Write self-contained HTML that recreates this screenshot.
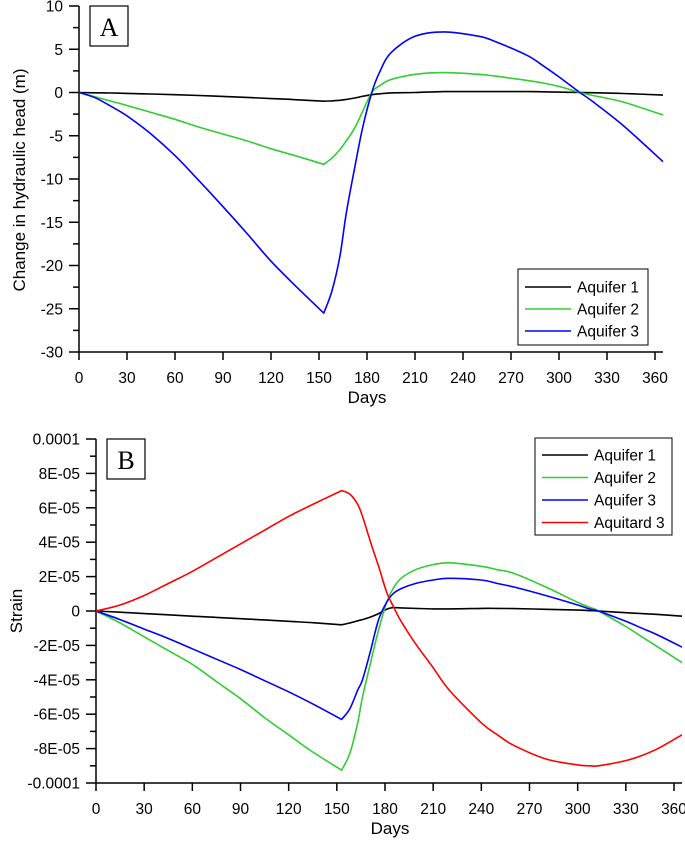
<!DOCTYPE html>
<html><head><meta charset="utf-8"><style>
body{margin:0;background:#fff}
svg{display:block;font-family:"Liberation Sans",Arial,sans-serif}
</style></head><body>
<svg id="chart" width="685" height="845" viewBox="0 0 685 845" xmlns="http://www.w3.org/2000/svg"></svg>
<script>
const daysA=[0,10,20,30,45,60,75,90,105,120,135,153,158,163,167,172,177,183,188,195,210,228,250,260,280,290,300,313,320,340,365];
const aq1A=[0,-0.03,-0.06,-0.1,-0.17,-0.25,-0.35,-0.45,-0.57,-0.7,-0.83,-1.0,-0.97,-0.9,-0.8,-0.65,-0.45,-0.25,-0.15,-0.05,0,0.1,0.1,0.1,0.1,0.08,0.05,0,-0.02,-0.12,-0.3];
const aq2A=[0,-0.5,-1.0,-1.5,-2.3,-3.1,-4.0,-4.8,-5.6,-6.5,-7.3,-8.3,-7.6,-6.6,-5.6,-4.2,-2.3,0,0.8,1.5,2.1,2.3,2.1,1.9,1.4,1.1,0.7,0,-0.3,-1.1,-2.6];
const aq3A=[0,-0.6,-1.6,-2.7,-4.8,-7.3,-10.2,-13.2,-16.3,-19.5,-22.3,-25.5,-23,-19,-14,-9,-4.3,0,2.4,4.6,6.5,7.0,6.5,5.9,4.3,3.1,1.8,0,-0.9,-3.8,-8.0];
const daysB=[0,15,30,45,60,75,90,105,120,135,153,158,163,166,171,176,181,185,190,199,210,220,240,250,260,280,300,308,313,330,340,350,365];
const aq1B=[0,-0.07,-0.15,-0.22,-0.3,-0.37,-0.45,-0.52,-0.6,-0.68,-0.8,-0.7,-0.57,-0.5,-0.35,-0.15,0.1,0.2,0.18,0.15,0.12,0.12,0.15,0.15,0.14,0.1,0.05,0.02,0,-0.1,-0.15,-0.2,-0.3];
const aq2B=[0,-0.7,-1.5,-2.3,-3.1,-4.1,-5.1,-6.2,-7.2,-8.2,-9.25,-8.3,-6.5,-5.0,-3.0,-1.1,0.5,1.3,1.9,2.4,2.7,2.8,2.6,2.4,2.2,1.4,0.5,0.2,0,-0.9,-1.5,-2.1,-3.0];
const aq3B=[0,-0.5,-1.05,-1.6,-2.2,-2.8,-3.4,-4.05,-4.7,-5.4,-6.3,-5.7,-4.6,-4.0,-2.3,-0.5,0.5,1.0,1.3,1.6,1.8,1.9,1.8,1.6,1.4,0.9,0.35,0.1,0,-0.6,-1.0,-1.4,-2.1];
const atd3B=[0,0.35,0.9,1.6,2.3,3.1,3.9,4.7,5.5,6.2,7.0,6.8,6.2,5.5,4.0,2.6,1.1,0.3,-0.6,-1.9,-3.3,-4.6,-6.5,-7.2,-7.8,-8.6,-8.95,-9.0,-9.0,-8.7,-8.4,-8.0,-7.2];
const xTicks=[0,30,60,90,120,150,180,210,240,270,300,330,360];
const yTicksA=[10,5,0,-5,-10,-15,-20,-25,-30];
const yTicksB=[10,8,6,4,2,0,-2,-4,-6,-8,-10];
const yLabelsB=["0.0001","8E-05","6E-05","4E-05","2E-05","0","-2E-05","-4E-05","-6E-05","-8E-05","-0.0001"];
const legendA=["Aquifer 1","Aquifer 2","Aquifer 3"];
const legendB=["Aquifer 1","Aquifer 2","Aquifer 3","Aquitard 3"];
const colors=["#000000","#33cc33","#0000ff","#ff0000"];

const NS="http://www.w3.org/2000/svg";
const svg=document.getElementById('chart');
function mk(tag,attrs,parent){const e=document.createElementNS(NS,tag);for(const k in attrs)e.setAttribute(k,attrs[k]);(parent||svg).appendChild(e);return e;}

function smoothPath(xs,ys,sharp){
  // Catmull-Rom with sharp corner at given index
  let d='M'+xs[0].toFixed(1)+','+ys[0].toFixed(1);
  const n=xs.length;
  for(let i=0;i<n-1;i++){
    const p0i=(i===0||i===sharp)?i:i-1, p3i=(i+2>=n||i+1===sharp)?i+1:i+2;
    const c1x=xs[i]+(xs[i+1]-xs[p0i])/6, c1y=ys[i]+(ys[i+1]-ys[p0i])/6;
    const c2x=xs[i+1]-(xs[p3i]-xs[i])/6, c2y=ys[i+1]-(ys[p3i]-ys[i])/6;
    d+=' C'+c1x.toFixed(1)+','+c1y.toFixed(1)+' '+c2x.toFixed(1)+','+c2y.toFixed(1)+' '+xs[i+1].toFixed(1)+','+ys[i+1].toFixed(1);
  }
  return d;
}

function panel(cfg){
  const g=mk('g',{});
  
  
  const sx=d=>cfg.x0+d*(cfg.x360-cfg.x0)/360;
  const sy=v=>cfg.yTop+(cfg.vTop-v)*(cfg.yBot-cfg.yTop)/(cfg.vTop-cfg.vBot);
  const ax=mk('line',{x1:cfg.x0,y1:cfg.yTop,x2:cfg.x0,y2:cfg.yBot,stroke:'#000','stroke-width':1.5},g);
  
  const bx=mk('line',{x1:cfg.x0,y1:cfg.yBot,x2:sx(365),y2:cfg.yBot,stroke:'#000','stroke-width':1.5},g);
  
  xTicks.forEach(t=>{
    mk('line',{x1:sx(t),y1:cfg.yBot,x2:sx(t),y2:cfg.yBot+8,stroke:'#000','stroke-width':1.5},g);
    const tx=mk('text',{x:sx(t),y:cfg.yBot+31,'text-anchor':'middle','font-size':15.5},g);
    tx.textContent=t;
    
  });
  cfg.yTicks.forEach((t,i)=>{
    mk('line',{x1:cfg.x0-10,y1:sy(t),x2:cfg.x0,y2:sy(t),stroke:'#000','stroke-width':1.5},g);
    if(i<cfg.yTicks.length-1){const m=(t+cfg.yTicks[i+1])/2;mk('line',{x1:cfg.x0-6,y1:sy(m),x2:cfg.x0,y2:sy(m),stroke:'#000','stroke-width':1.5},g);}
    const ty=mk('text',{x:cfg.x0-16,y:sy(t)+5.5,'text-anchor':'end','font-size':15.5},g);
    ty.textContent=cfg.yLabels?cfg.yLabels[i]:t;
    
  });
  const xt=mk('text',{x:cfg.xTitleX,y:cfg.yBot+51,'text-anchor':'middle','font-size':17},g);
  xt.textContent='Days';
  const yt=mk('text',{x:0,y:0,'text-anchor':'middle','font-size':17,transform:`translate(${cfg.yTitleX},${cfg.yTitleY}) rotate(-90)`},g);
  yt.textContent=cfg.yTitle;
  const sharp=cfg.days.indexOf(153);
  cfg.series.forEach((s,i)=>{
    const xs=cfg.days.map(sx), ys=s.map(sy);
    const p=mk('path',{d:smoothPath(xs,ys,sharp),fill:'none',stroke:colors[i],'stroke-width':1.6,'stroke-linejoin':'round'},g);
    
    
  });
  const lb=mk('rect',{x:cfg.boxX,y:cfg.boxY,width:38,height:40,fill:'#fff',stroke:'#000','stroke-width':1.2},g);
  
  const lt=mk('text',{x:cfg.boxX+19,y:cfg.boxY+30,'text-anchor':'middle','font-size':26,'font-family':'Liberation Serif, serif'},g);
  lt.textContent=cfg.letter;
  const L=cfg.leg;
  const lr=mk('rect',{x:L.x,y:L.y,width:L.w,height:L.h,fill:'#fff',stroke:'#000','stroke-width':1},g);
  
  cfg.legend.forEach((n,i)=>{
    const yy=L.y+L.first+i*L.step;
    const ll=mk('line',{x1:L.x+7,y1:yy,x2:L.x+53,y2:yy,stroke:colors[i],'stroke-width':1.6},g);
    
    const lt2=mk('text',{x:L.x+59,y:yy+5.5,'font-size':15.5},g);
    lt2.textContent=n;
  });
}
panel({name:'panel-a',x0:79,x360:655,yTop:6,yBot:352,vTop:10,vBot:-30,days:daysA,series:[aq1A,aq2A,aq3A],
  yTicks:yTicksA,yTitle:'Change in hydraulic head (m)',yTitleX:25,yTitleY:180,xTitleX:367,
  boxX:90,boxY:6,letter:'A',legend:legendA,leg:{x:518,y:269,w:130,h:76,first:18,step:22}});
panel({name:'panel-b',x0:96,x360:674,yTop:439,yBot:783,vTop:10,vBot:-10,days:daysB,series:[aq1B,aq2B,aq3B,atd3B],
  yTicks:yTicksB,yLabels:yLabelsB,yTitle:'Strain',yTitleX:22,yTitleY:611,xTitleX:390,
  boxX:107,boxY:439,letter:'B',legend:legendB,leg:{x:535,y:438,w:137,h:97,first:17,step:22.5}});
</script>
</body></html>
